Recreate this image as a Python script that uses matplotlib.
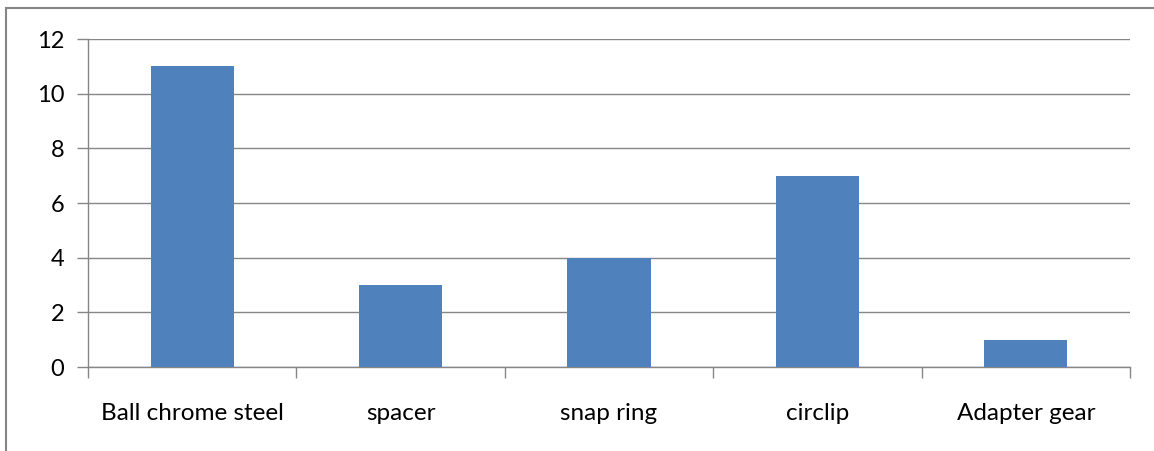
import matplotlib.pyplot as plt
from matplotlib.patches import Rectangle
import numpy as np

categories = ['Ball chrome steel', 'spacer', 'snap ring', 'circlip', 'Adapter gear']
values = [11, 3, 4, 7, 1]
yticks = [0, 2, 4, 6, 8, 10, 12]

W, H = 1154, 451
fig = plt.figure(figsize=(W / 100, H / 100), dpi=100)
ax = fig.add_axes([88 / W, 1 - 367 / H, (1130 - 88) / W, (367 - 39) / H])

grid_col = '#868686'
x = np.arange(len(categories))
ax.bar(x, values, width=0.4, color='#4F81BD', zorder=3)

ax.set_xlim(-0.5, len(categories) - 0.5)
ax.set_ylim(0, 12)
ax.set_yticks(yticks)
ax.set_yticklabels([str(v) for v in yticks], fontsize=17, fontfamily='Lato')
ax.yaxis.grid(True, color=grid_col, linewidth=1.0, zorder=0)

ax.set_xticks(x)
ax.set_xticklabels(categories, fontsize=17.5, fontfamily='Lato')
ax.tick_params(axis='x', length=0, pad=26)
ax.set_xticks(np.arange(-0.5, len(categories)), minor=True)
ax.tick_params(axis='x', which='minor', length=8, color=grid_col, width=1)
ax.tick_params(axis='y', length=8, color=grid_col, width=1, pad=9)

for s in ['top', 'right']:
    ax.spines[s].set_visible(False)
for s in ['left', 'bottom']:
    ax.spines[s].set_color(grid_col)
    ax.spines[s].set_linewidth(1.0)

fig.patches.append(Rectangle((6 / W, -0.2), 1.2, 1.2 - 8 / H, transform=fig.transFigure,
                             fill=False, edgecolor=grid_col, linewidth=1.5))

fig.savefig('out.png', dpi=100)
